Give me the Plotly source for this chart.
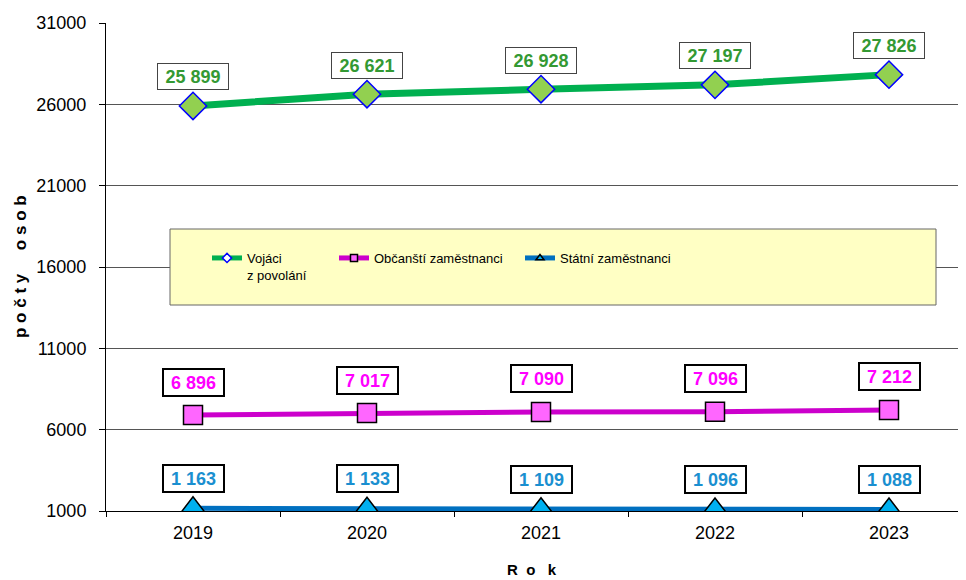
import plotly.graph_objects as go

years = ["2019", "2020", "2021", "2022", "2023"]
vojaci = [25899, 26621, 26928, 27197, 27826]
obcansti = [6896, 7017, 7090, 7096, 7212]
statni = [1163, 1133, 1109, 1096, 1088]

y_ticks = [1000, 6000, 11000, 16000, 21000, 26000, 31000]

series_names = ["Vojáci<br>z povolání", "Občanští zaměstnanci", "Státní zaměstnanci"]

# page has an 8px body margin; figure is sized/placed to compensate
OFF = 8
W, H = 958, 572
ML, MR, MT, MB = 98, 0, 15, 69
PW = W - ML - MR
PH = H - MT - MB
CAT_PX = 174.0

def px_x(p):
    return (p - OFF - ML) / PW

def px_y(p):
    return (OFF + MT + PH - p) / PH

def fmt(v):
    return f"{v:,}".replace(",", " ")

FONT = "Liberation Sans, Arial, sans-serif"
NB = "\u00a0"

styles = [
    dict(line=dict(color="#00B050", width=7),
         marker=dict(symbol="diamond", size=21, color="#92D050", line=dict(color="#0000FF", width=1.5)),
         lmarker=dict(symbol="diamond", size=7, color="#FFFFFF", line=dict(color="#0000FF", width=1.5)),
         lline=dict(color="#00B050", width=5),
         txt="#339933", bw=1, bc="#444444", yshift=29),
    dict(line=dict(color="#CC00CC", width=5),
         marker=dict(symbol="square", size=19, color="#FF66FF", line=dict(color="#000000", width=1.5)),
         lmarker=dict(symbol="square", size=7, color="#FF66FF", line=dict(color="#000000", width=1.5)),
         lline=dict(color="#CC00CC", width=5),
         txt="#FF00FF", bw=2, bc="#000000", yshift=33),
    dict(line=dict(color="#0070C0", width=5),
         marker=dict(symbol="triangle-up", size=23, color="#00B0F0", line=dict(color="#000000", width=1.5)),
         lmarker=dict(symbol="triangle-up", size=7, color="#00B0F0", line=dict(color="#000000", width=1.5)),
         lline=dict(color="#0070C0", width=5),
         txt="#1A8FD0", bw=2, bc="#000000", yshift=30),
]

data = [vojaci, obcansti, statni]
legend_ids = ["legend", "legend2", "legend3"]

fig = go.Figure()

for vals, st in zip(data, styles):
    fig.add_trace(go.Scatter(
        x=years, y=vals, mode="lines+markers",
        line=st["line"], marker=st["marker"],
        showlegend=False, hoverinfo="x+y",
    ))

for name, st, lid in zip(series_names, styles, legend_ids):
    fig.add_trace(go.Scatter(
        x=[None], y=[None], mode="lines+markers", name=name,
        line=st["lline"], marker=st["lmarker"], legend=lid,
    ))

annotations = []
for vals, st in zip(data, styles):
    for i, v in enumerate(vals):
        s = fmt(v)
        annotations.append(dict(
            x=i, y=v, xref="x", yref="y", text=f"<b>{s}</b>",
            showarrow=False, yshift=st["yshift"],
            font=dict(family=FONT, size=18, color=st["txt"]),
            bgcolor="#FFFFFF", bordercolor=st["bc"], borderwidth=st["bw"],
            borderpad=0, width=(70 if len(s) > 5 else 59), height=25,
            xanchor="center", yanchor="middle",
        ))

ytitle = NB.join("počty") + NB * 5 + NB.join("osob")
annotations.append(dict(
    x=px_x(20), y=px_y(267), xref="paper", yref="paper",
    text=f"<b>{ytitle}</b>", textangle=-90, showarrow=False,
    font=dict(family=FONT, size=17, color="#000000"),
    xanchor="center", yanchor="middle",
))
annotations.append(dict(
    x=px_x(532), y=px_y(569), xref="paper", yref="paper",
    text="<b>R" + NB * 2 + "o" + NB * 3 + "k</b>", showarrow=False,
    font=dict(family=FONT, size=15, color="#000000"),
    xanchor="center", yanchor="middle",
))

shapes = [dict(
    type="rect", xref="paper", yref="paper",
    x0=px_x(170), x1=px_x(936), y0=px_y(305), y1=px_y(229),
    fillcolor="#FFFFC4", line=dict(color="#666666", width=1), layer="above",
)]

leg_common = dict(
    bgcolor="rgba(0,0,0,0)", borderwidth=0, xanchor="left", yanchor="top",
    font=dict(family=FONT, size=13, color="#000000"), valign="top",
    itemsizing="trace", orientation="v",
)
legend_x = [207, 334, 520]
legend_top = 243

layout_legends = {}
for lid, lx in zip(legend_ids, legend_x):
    layout_legends[lid] = dict(leg_common, x=px_x(lx), y=px_y(legend_top))

fig.update_layout(
    width=W, height=H,
    margin=dict(l=ML, r=MR, t=MT, b=MB, pad=0),
    paper_bgcolor="#FFFFFF", plot_bgcolor="#FFFFFF",
    font=dict(family=FONT, size=18, color="#000000"),
    annotations=annotations, shapes=shapes,
    **layout_legends,
)

fig.update_xaxes(
    type="category", categoryorder="array", categoryarray=years,
    range=[-0.5, -0.5 + PW / CAT_PX],
    showgrid=False, showline=True, linecolor="#000000", linewidth=1,
    ticks="outside", ticklen=5, tickcolor="#000000", tickson="boundaries",
    ticklabelstandoff=5,
    tickfont=dict(family=FONT, size=18, color="#000000"),
    zeroline=False, fixedrange=True,
)
fig.update_yaxes(
    range=[y_ticks[0], y_ticks[-1]], tickvals=y_ticks, tickformat="d",
    showgrid=True, gridcolor="#555555", gridwidth=1,
    showline=True, linecolor="#000000", linewidth=1,
    ticks="outside", ticklen=6, tickcolor="#000000",
    ticklabelstandoff=9,
    tickfont=dict(family=FONT, size=18, color="#000000"),
    zeroline=False, fixedrange=True,
)

fig.write_html("out.html")
